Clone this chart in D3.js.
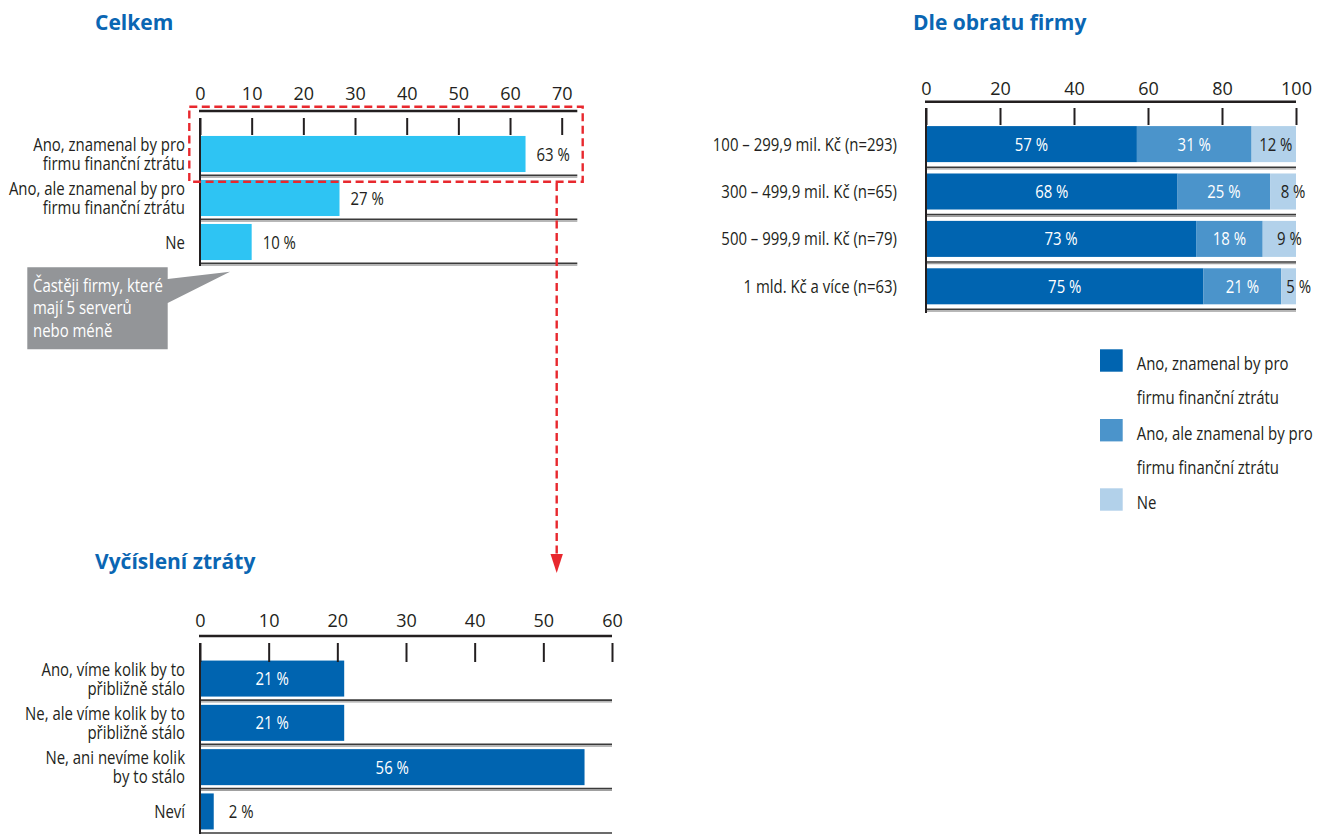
<!DOCTYPE html>
<html><head><meta charset="utf-8">
<script src="https://cdn.jsdelivr.net/npm/d3@7"></script>
<style>
body{margin:0;background:#fff;}
svg{display:block;}
</style></head><body><svg id="c" width="1317" height="834"></svg>
<script>
// ---------- DATA ----------
const celkemCategories = [["Ano, znamenal by pro","firmu finanční ztrátu"],["Ano, ale znamenal by pro","firmu finanční ztrátu"],["Ne"]];
const celkemValues = [63, 27, 10];
const celkemTicks = [0, 10, 20, 30, 40, 50, 60, 70];

const obratCategories = ["100 – 299,9 mil. Kč (n=293)","300 – 499,9 mil. Kč (n=65)","500 – 999,9 mil. Kč (n=79)","1 mld. Kč a více (n=63)"];
const obratAno = [57, 68, 73, 75];
const obratAle = [31, 25, 18, 21];
const obratNe  = [12, 8, 9, 5];
const obratTicks = [0, 20, 40, 60, 80, 100];
const legendLabels = [["Ano, znamenal by pro","firmu finanční ztrátu"],["Ano, ale znamenal by pro","firmu finanční ztrátu"],["Ne"]];

const ztrataCategories = [["Ano, víme kolik by to","přibližně stálo"],["Ne, ale víme kolik by to","přibližně stálo"],["Ne, ani nevíme kolik","by to stálo"],["Neví"]];
const ztrataValues = [21, 21, 56, 2];
const ztrataTicks = [0, 10, 20, 30, 40, 50, 60];

const calloutLines = ["Častěji firmy, které","mají 5 serverů","nebo méně"];
const titles = ["Celkem","Dle obratu firmy","Vyčíslení ztráty"];

// ---------- STYLE ----------
const REG = '"Open Sans","Liberation Sans",sans-serif';
const C_TEXT = "#231f20", C_TITLE = "#0a66b3", C_CYAN = "#2ec4f3",
      C_DARK = "#0064b0", C_MID = "#4b94cb", C_LIGHT = "#b2d1ea",
      C_RED = "#e8282e", C_GRAY = "#939598";
const FS = 18.5;

const svg = d3.select("#c");

// horizontal condensing factor (the reference uses a condensed face)
const probe = svg.append("text").attr("font-family", REG).attr("font-size", FS).text("Ano, znamenal by pro");
const SX = 152 / probe.node().getComputedTextLength();
probe.remove();

function cond(parent, x, y, str, opt = {}) {
  const g = parent.append("g").attr("transform", `translate(${x},${y}) scale(${SX},1)`);
  return g.append("text").attr("x", 0).attr("y", 0)
    .attr("text-anchor", opt.anchor || "start")
    .attr("font-family", REG).attr("font-size", FS)
    .attr("fill", opt.fill || C_TEXT).text(str);
}

function title(txt, x, y) {
  svg.append("text").attr("x", x).attr("y", y).text(txt)
    .attr("font-family", REG).attr("font-weight", 700).attr("font-size", 21)
    .attr("fill", C_TITLE);
}

function frame(x, y, o, n) {
  const g = svg.append("g");
  g.append("g").attr("transform", `translate(0,${o.labelY})`)
    .call(d3.axisTop(x).tickValues(o.ticks).tickSize(0).tickPadding(0))
    .call(s => s.select(".domain").remove())
    .attr("font-family", REG).attr("font-size", 18)
    .selectAll("text").attr("fill", C_TEXT);
  g.append("g").attr("transform", `translate(0,${o.tickTop})`)
    .call(d3.axisBottom(x).tickValues(o.ticks).tickSize(o.tickLen).tickFormat(""))
    .call(s => s.select(".domain").remove())
    .selectAll("line").attr("stroke", C_TEXT).attr("stroke-width", 2);
  g.append("line").attr("x1", x(0) - 1).attr("x2", o.lineEnd)
    .attr("y1", o.axisY).attr("y2", o.axisY)
    .attr("stroke", C_TEXT).attr("stroke-width", 2.5);
  const r0 = y.range()[0], st = y.step();
  d3.range(n).forEach(i => {
    const yy = r0 + (i + 1) * st;
    g.append("line").attr("x1", x(0)).attr("x2", o.lineEnd)
      .attr("y1", yy - 0.6).attr("y2", yy - 0.6).attr("stroke", "#3a3a3a").attr("stroke-width", 1.6);
    g.append("line").attr("x1", x(0)).attr("x2", o.lineEnd)
      .attr("y1", yy + 1.1).attr("y2", yy + 1.1).attr("stroke", "#a0a0a0").attr("stroke-width", 1.2);
  });
  g.append("line").attr("x1", x(0)).attr("x2", x(0))
    .attr("y1", o.tickTop).attr("y2", o.vBottom)
    .attr("stroke", C_TEXT).attr("stroke-width", 2);
  return g;
}

function catLabels(cats, y, xr, lh) {
  cats.forEach((lines, i) => {
    const c = y(i) + y.bandwidth() / 2;
    const first = c + 6.5 - (lines.length - 1) * lh / 2;
    lines.forEach((l, k) => cond(svg, xr, first + k * lh, l, {anchor: "end"}));
  });
}

// ---------- CHART 1: Celkem ----------
title(titles[0], 95, 30);
const x1 = d3.scaleLinear().domain([0, 70]).range([200, 561.7]);
const y1 = d3.scaleBand().domain(d3.range(celkemValues.length)).range([132, 264]).paddingInner(0.18).paddingOuter(0.09);

svg.append("path")
  .attr("d", "M27.3,267.3 H167.7 V279 L230,271.7 L167.7,303 V349.3 H27.3 Z")
  .attr("fill", C_GRAY);
calloutLines.forEach((l, k) => cond(svg, 33, 292 + k * 22.3, l, {fill: "#fff"}));

svg.append("g").selectAll("rect").data(celkemValues).join("rect")
  .attr("x", x1(0)).attr("y", (d, i) => y1(i))
  .attr("width", d => x1(d) - x1(0)).attr("height", y1.bandwidth())
  .attr("fill", C_CYAN);
frame(x1, y1, {ticks: celkemTicks, labelY: 100, tickTop: 118, tickLen: 17, axisY: 111, lineEnd: 577.3, vBottom: 266}, celkemValues.length);
celkemValues.forEach((d, i) => cond(svg, x1(d) + 11, y1(i) + y1.bandwidth() / 2 + 6.5, d + " %"));
catLabels(celkemCategories, y1, 185, 19);

svg.append("rect").attr("x", 189.3).attr("y", 106.7).attr("width", 393.4).attr("height", 75)
  .attr("fill", "none").attr("stroke", C_RED).attr("stroke-width", 2.4).attr("stroke-dasharray", "8,4.5");
svg.append("line").attr("x1", 556.7).attr("x2", 556.7).attr("y1", 183).attr("y2", 556)
  .attr("stroke", C_RED).attr("stroke-width", 2.4).attr("stroke-dasharray", "8,4.5");
svg.append("path").attr("d", "M550.5,554 L562.9,554 L556.7,573 Z").attr("fill", C_RED);

// ---------- CHART 2: Dle obratu firmy ----------
title(titles[1], 913, 30);
const x2 = d3.scaleLinear().domain([0, 100]).range([926, 1296]).clamp(true);
const y2 = d3.scaleBand().domain(d3.range(obratCategories.length)).range([120.4, 310]).paddingInner(0.24).paddingOuter(0.12);
const series = [
  {vals: obratAno, color: C_DARK, txt: "#fff"},
  {vals: obratAle, color: C_MID, txt: "#fff"},
  {vals: obratNe, color: C_LIGHT, txt: C_TEXT}
];
const stackRows = obratCategories.map((c, i) => {
  let acc = 0;
  return series.map((s, k) => { const a = acc; acc += s.vals[i]; return {i, k, v: s.vals[i], a, b: acc}; });
});
const g2 = svg.append("g");
stackRows.flat().forEach(d => {
  g2.append("rect").attr("x", x2(d.a)).attr("y", y2(d.i))
    .attr("width", Math.max(0, x2(d.b) - x2(d.a))).attr("height", y2.bandwidth())
    .attr("fill", series[d.k].color);
});
frame(x2, y2, {ticks: obratTicks, labelY: 95, tickTop: 108, tickLen: 17, axisY: 101.7, lineEnd: 1296, vBottom: 313}, obratCategories.length);
stackRows.flat().forEach(d => {
  let cx = (x2(d.a) + x2(d.b)) / 2;
  if (d.k === 2) cx += (d.v < 10 ? 10 : 2);
  cond(svg, cx, y2(d.i) + y2.bandwidth() / 2 + 6.5, d.v + " %", {anchor: "middle", fill: series[d.k].txt});
});
catLabels(obratCategories.map(c => [c]), y2, 897, 19);

const legTops = [349.3, 419, 488.3];
legendLabels.forEach((lines, k) => {
  svg.append("rect").attr("x", 1100).attr("y", legTops[k]).attr("width", 22.7).attr("height", 22.4)
    .attr("fill", series[k].color);
  lines.forEach((l, j) => cond(svg, 1136.7, legTops[k] + 20.7 + j * 34, l));
});

// ---------- CHART 3: Vyčíslení ztráty ----------
title(titles[2], 95, 569);
const x3 = d3.scaleLinear().domain([0, 60]).range([200, 612]);
const y3 = d3.scaleBand().domain(d3.range(ztrataValues.length)).range([656.4, 833.6]).paddingInner(0.187).paddingOuter(0.094);
svg.append("g").selectAll("rect").data(ztrataValues).join("rect")
  .attr("x", x3(0)).attr("y", (d, i) => y3(i))
  .attr("width", d => x3(d) - x3(0)).attr("height", y3.bandwidth())
  .attr("fill", C_DARK);
frame(x3, y3, {ticks: ztrataTicks, labelY: 627, tickTop: 643, tickLen: 19, axisY: 636, lineEnd: 612, vBottom: 834}, ztrataValues.length);
ztrataValues.forEach((d, i) => {
  const inside = d >= 10;
  cond(svg, inside ? (x3(0) + x3(d)) / 2 : x3(d) + 15, y3(i) + y3.bandwidth() / 2 + 6.5, d + " %",
    {anchor: inside ? "middle" : "start", fill: inside ? "#fff" : C_TEXT});
});
catLabels(ztrataCategories, y3, 185, 19);
</script></body></html>
